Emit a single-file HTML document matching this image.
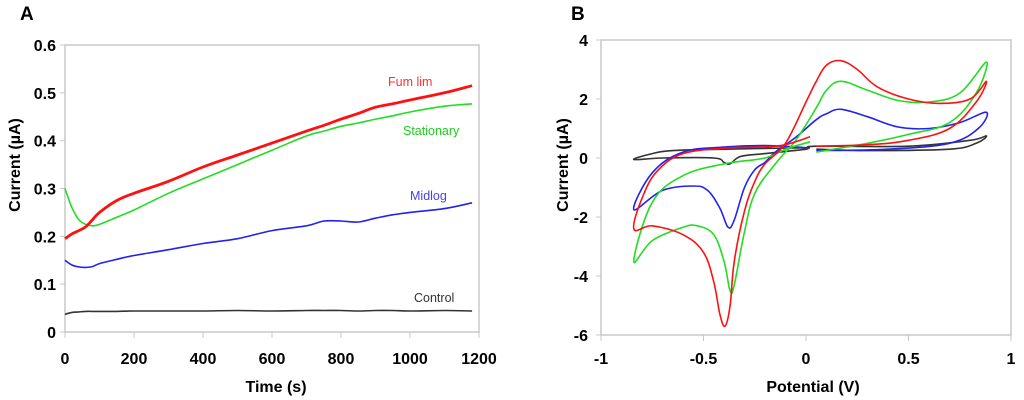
<!DOCTYPE html>
<html><head><meta charset="utf-8"><style>
body{margin:0;background:#fff;}
svg{display:block;font-family:"Liberation Sans",sans-serif;}
.tk{font-weight:bold;font-size:16px;fill:#000;}
.tt{font-weight:bold;font-size:16px;fill:#000;}
</style></head><body>
<svg id="c" width="1024" height="400"></svg>
<script>
// Panel A data
const tA=[0,20,40,60,80,100,150,200,300,400,500,600,700,750,800,850,900,950,1000,1100,1180];
const fumLim=[0.195,0.205,0.212,0.22,0.235,0.25,0.275,0.29,0.315,0.345,0.37,0.395,0.42,0.432,0.445,0.457,0.47,0.477,0.485,0.5,0.515];
const stationary=[0.3,0.26,0.235,0.225,0.222,0.225,0.24,0.255,0.29,0.32,0.35,0.38,0.41,0.42,0.43,0.437,0.445,0.452,0.46,0.472,0.477];
const midlog=[0.15,0.14,0.136,0.135,0.137,0.143,0.152,0.16,0.172,0.185,0.195,0.212,0.222,0.232,0.232,0.23,0.238,0.245,0.25,0.258,0.27];
const control=[0.037,0.041,0.042,0.043,0.043,0.043,0.043,0.044,0.044,0.044,0.045,0.044,0.045,0.045,0.045,0.044,0.045,0.045,0.044,0.045,0.044];
const xTicksA=[0,200,400,600,800,1000,1200];
const yTicksA=[0,0.1,0.2,0.3,0.4,0.5,0.6];
// Panel B data (potential V, current µA)
const redV=[0.02,-0.1,-0.2,-0.4,-0.6,-0.72,-0.79,-0.84,-0.75,-0.6,-0.5,-0.45,-0.42,-0.395,-0.37,-0.35,-0.3,-0.25,-0.2,-0.1,0,0.05,0.1,0.17,0.25,0.35,0.5,0.65,0.8,0.88,0.83,0.7,0.5,0.3,0.05];
const redI=[0.72,0.45,0.38,0.33,0.15,-0.4,-1.2,-2.4,-2.3,-2.6,-3.2,-4.2,-5.3,-5.7,-5.0,-3.5,-1.8,-0.8,-0.2,0.5,1.9,2.6,3.15,3.3,3.0,2.4,2.0,1.85,2.0,2.6,1.9,1.0,0.6,0.45,0.4];
const greenV=[0.02,-0.1,-0.2,-0.4,-0.6,-0.75,-0.84,-0.75,-0.6,-0.53,-0.45,-0.4,-0.37,-0.35,-0.3,-0.25,-0.15,-0.05,0.05,0.1,0.17,0.3,0.45,0.6,0.75,0.88,0.83,0.7,0.5,0.3,0.05];
const greenI=[0.55,0.3,0.0,-0.2,-0.6,-1.5,-3.5,-2.8,-2.35,-2.3,-2.6,-3.5,-4.5,-4.3,-2.5,-1.2,-0.2,0.6,1.7,2.3,2.6,2.3,1.95,1.9,2.2,3.25,2.2,1.2,0.8,0.5,0.2];
const blueV=[0.0,-0.2,-0.4,-0.6,-0.75,-0.84,-0.7,-0.55,-0.48,-0.42,-0.38,-0.35,-0.3,-0.25,-0.2,-0.15,-0.05,0.05,0.1,0.17,0.3,0.45,0.6,0.75,0.88,0.84,0.7,0.4,0.05];
const blueI=[0.35,0.42,0.37,0.2,-0.5,-1.75,-1.1,-0.95,-1.1,-1.7,-2.35,-2.1,-1.0,-0.4,-0.15,0.2,0.7,1.3,1.5,1.65,1.4,1.05,1.0,1.2,1.55,1.0,0.5,0.3,0.25];
const blackV=[0.02,-0.4,-0.65,-0.75,-0.84,-0.7,-0.45,-0.4,-0.37,-0.32,-0.2,0,0.05,0.5,0.8,0.88,0.83,0.7,0.3,0.05];
const blackI=[0.35,0.3,0.25,0.15,-0.05,0.0,0.0,-0.15,-0.2,0.05,0.15,0.3,0.4,0.4,0.6,0.75,0.5,0.3,0.25,0.3];
const xTicksB=[-1,-0.5,0,0.5,1];
const yTicksB=[-6,-4,-2,0,2,4];

const svg=document.getElementById('c');
const NS='http://www.w3.org/2000/svg';
function mk(tag,attrs,parent){const e=document.createElementNS(NS,tag);for(const k in attrs)e.setAttribute(k,attrs[k]);(parent||svg).appendChild(e);return e;}
function txt(s,attrs){const e=mk('text',attrs);e.textContent=s;return e;}
function smooth(pts){let d='M'+pts[0][0].toFixed(1)+','+pts[0][1].toFixed(1);
for(let i=0;i<pts.length-1;i++){const p0=pts[Math.max(0,i-1)],p1=pts[i],p2=pts[i+1],p3=pts[Math.min(pts.length-1,i+2)];const k=0.18;
const c1=[p1[0]+(p2[0]-p0[0])*k,p1[1]+(p2[1]-p0[1])*k],c2=[p2[0]-(p3[0]-p1[0])*k,p2[1]-(p3[1]-p1[1])*k];
d+='C'+c1[0].toFixed(1)+','+c1[1].toFixed(1)+' '+c2[0].toFixed(1)+','+c2[1].toFixed(1)+' '+p2[0].toFixed(1)+','+p2[1].toFixed(1);}
return d;}

// Panel A axes
const ax=t=>65+t*(414/1200), ay=v=>332-v*(287/0.6);
const fa=mk('rect',{x:65,y:45,width:414,height:287,fill:'none',stroke:'#c8c8c8','stroke-width':1.5});


yTicksA.forEach(v=>{const e=txt(v===0?'0':v.toFixed(1),{x:56,y:ay(v)+6,'text-anchor':'end',class:'tk'});


mk('line',{x1:60,x2:65,y1:ay(v),y2:ay(v),stroke:'#c8c8c8'});});
xTicksA.forEach(t=>{const e=txt(String(t),{x:ax(t),y:364,'text-anchor':'middle',class:'tk'});


mk('line',{x1:ax(t),x2:ax(t),y1:332,y2:338,stroke:'#c8c8c8'});});
function lineA(ys,col,w,name){const p=mk('path',{d:smooth(tA.map((t,i)=>[ax(t),ay(ys[i])])),fill:'none',stroke:col,'stroke-width':w,'stroke-linejoin':'round'});

}
lineA(control,'#333',1.6,'control-line');
lineA(midlog,'#2222ee',1.6,'midlog-line');
lineA(stationary,'#22dd22',1.6,'stationary-line');
lineA(fumLim,'#ff1010',2.8,'fum-lim-line');
[['Fum lim',388,86,'#ff3030'],['Stationary',403,135,'#22cc22'],['Midlog',410,200,'#4444ee'],['Control',414,302,'#333']].forEach(a=>{const e=txt(a[0],{x:a[1],y:a[2],'font-size':12.5,fill:a[3]});

});
let e=txt('Current (µA)',{x:0,y:0,class:'tt',transform:'translate(20,165) rotate(-90)','text-anchor':'middle'});


e=txt('Time (s)',{x:276,y:392,class:'tt','text-anchor':'middle'});


e=txt('A',{x:20,y:20,'font-weight':'bold','font-size':19});



// Panel B
const bx=v=>601+(v+1)*205, by=i=>40+(4-i)*29.5;
const fb=mk('rect',{x:601,y:40,width:410,height:295,fill:'none',stroke:'#c8c8c8','stroke-width':1.5});


yTicksB.forEach(v=>{const e=txt(String(v),{x:588,y:by(v)+6,'text-anchor':'end',class:'tk'});


mk('line',{x1:596,x2:601,y1:by(v),y2:by(v),stroke:'#c8c8c8'});});
xTicksB.forEach(v=>{const e=txt(String(v),{x:bx(v),y:364,'text-anchor':'middle',class:'tk'});


mk('line',{x1:bx(v),x2:bx(v),y1:335,y2:341,stroke:'#c8c8c8'});});
function lineB(vs,is,col,name){const p=mk('path',{d:smooth(vs.map((v,i)=>[bx(v),by(is[i])])),fill:'none',stroke:col,'stroke-width':1.6,'stroke-linejoin':'round'});

}
lineB(blackV,blackI,'#333','control-cv');
lineB(blueV,blueI,'#2222ee','midlog-cv');
lineB(greenV,greenI,'#22dd22','stationary-cv');
lineB(redV,redI,'#ff1010','fum-lim-cv');
e=txt('Current (µA)',{x:0,y:0,class:'tt',transform:'translate(568,165) rotate(-90)','text-anchor':'middle'});


e=txt('Potential (V)',{x:813,y:392,class:'tt','text-anchor':'middle'});


e=txt('B',{x:571,y:20,'font-weight':'bold','font-size':19});


</script>
</body></html>
